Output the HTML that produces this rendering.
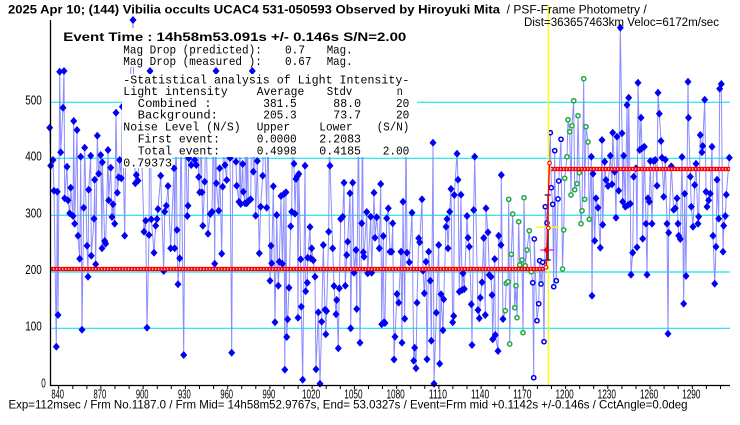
<!DOCTYPE html>
<html><head><meta charset="utf-8"><style>
html,body{margin:0;padding:0;background:#fff;}
svg{display:block;}
text{font-family:"Liberation Sans",sans-serif;fill:#000;}
.m text{font-family:"Liberation Mono",monospace;font-size:12px;}
.t{font-size:12.5px;}
.t text{font-size:12.5px;}
</style></head><body>
<svg width="740" height="425" viewBox="0 0 740 425" xmlns="http://www.w3.org/2000/svg">
<defs>
<marker id="d" viewBox="0 0 7 8" markerWidth="7" markerHeight="8" refX="3.5" refY="4" markerUnits="userSpaceOnUse"><path d="M3.5 0L7 4 3.5 8 0 4Z" fill="#0000f4"/></marker>
<marker id="g" viewBox="0 0 8 8" markerWidth="8" markerHeight="8" refX="4" refY="4" markerUnits="userSpaceOnUse"><circle cx="4" cy="4" r="2.1" fill="#fff" stroke="#22aa44" stroke-width="1.5"/></marker>
<marker id="o" viewBox="0 0 8 8" markerWidth="8" markerHeight="8" refX="4" refY="4" markerUnits="userSpaceOnUse"><circle cx="4" cy="4" r="2.1" fill="#fff" stroke="#0000f4" stroke-width="1.5"/></marker>
</defs>
<rect width="740" height="425" fill="#fff"/>
<!-- grid -->
<g stroke="#10e4f0" stroke-width="1.2">
<line x1="50" y1="102.3" x2="730" y2="102.3"/>
<line x1="50" y1="158.3" x2="730" y2="158.3"/>
<line x1="50" y1="215.3" x2="730" y2="215.3"/>
<line x1="50" y1="272" x2="730" y2="272"/>
<line x1="50" y1="328.3" x2="730" y2="328.3"/>
</g>
<!-- data line -->
<polyline fill="none" stroke="#8c8cff" stroke-width="1" points="49.7,127.7 50.7,165.7 53,160 54,190.7 56.3,346.7 57.3,191.7 58,315 59.7,71.7 60.7,152.3 63,107.7 64,71 64.7,198.3 67,166.7 68,200.3 69.7,213.3 70.7,187.7 73,216 73.7,121 74.7,223.7 77,130 78,235.7 79.7,258.7 80.7,156.7 82,329.7 83.7,207.7 84.7,147.7 87,245.7 88,276.7 88.7,189.7 90.7,155.7 91.3,255.7 94,218.7 94.7,179.7 95.7,264.3 97.3,135.7 98.7,173.7 100.7,155 102,248.3 102.3,162.3 104.7,241 105.7,243.7 108,150 108.7,200.3 110.7,167.7 112,217 113,204.3 114.7,223.7 116,112.7 117.3,192.7 118.7,177.3 119.7,160 121.3,178.3 122.3,106.7 124.7,235.7 126,120 129,110 133,20 134,120 135.3,183.3 136.3,175 138,180.7 141,130 144,231.7 145.7,220.7 147,327.7 149,235 150,71 151.3,219.3 154,252.7 155.7,225.7 157,219 158,209 160.7,175.7 163.7,271 164.7,211.7 166.3,205.7 168,186 170.7,248.3 174,168.3 174.7,248.3 176,120 177,230 178,284.3 179.7,258.3 181,125 183.7,355 185.5,115 187.3,216 188,205.7 188.7,158.3 191.3,165 192.5,110 194.7,160 196.3,165 197.5,120 198.7,177 199.7,192.3 201,125 202,192.3 202.8,225.7 204.7,181.7 206,118 208,233.7 210.3,214 212,211.7 213.5,120 214.7,263.7 216,71 216.3,183.3 218.7,210.7 219.7,168.3 221.7,253.7 222.7,186.7 224,120 225,165 226.7,180 228,110 230,158 231.7,352.7 233,115 235,125 236,161.7 236.7,185.7 239,201.7 240,120 240.7,204 242.7,164 243.3,191.7 245,203.3 245.5,105 246.7,203.3 247.5,130 248.3,201 250.7,199.3 252.3,71 253.3,171.7 254,125 255.7,215.7 257.3,161 259.3,253.3 260.7,206.7 262.7,175.7 264,120 266.7,207.7 268,128 270,280.7 271,245.7 271.7,263.3 273.3,186.3 275,322.3 276.7,215 278.3,285.7 279.3,261.7 281,196 282.3,263.7 284,194 284.8,369.7 286,192.3 286.7,337 287.7,319.3 289,287.7 290.7,226.3 291.7,211.7 292.5,120 294,163.7 295,213.7 296,179 297.3,176.3 298,317.7 298.8,174 300.7,259.3 301.3,306.7 302.7,379.7 305,165.7 305.7,291.3 307.3,282.7 307.7,257.7 310,227 310.7,258.3 311.7,248.3 313.3,260.3 315,276.7 316,369.3 318.3,312.3 320,383.7 321.7,321.7 323.3,245 325,309.7 325.8,334.3 326.6,311 328.7,231.7 329.5,115 330,165.7 332.7,248.3 334,286 336,314.3 336.7,300 338.3,348.3 339.3,288.3 340.7,219 342.7,216.7 344,182.7 345.3,285.7 346.7,255 347.7,241.7 350,193.3 350.7,328.3 352.7,182.7 354,272.7 356,250 356.7,309 358.5,120 360,342.7 361.7,223.3 362.5,110 363.3,252.3 364,256.7 366.7,212 367.7,273.3 370.7,216.7 371.7,272.7 374,192.7 375,237.7 376.7,217.3 379.3,248.3 380.7,184 381.7,324.3 383.3,236 384,322.3 385,323 386.7,218.3 388.3,208.3 390,251.7 391.7,251.7 392.7,223.3 394,359.5 395,336.7 397,294 398.7,302.7 401,251.7 402,342.7 403,201.7 404.7,318.7 406,128 407,252.7 409.3,262.3 412,212.7 413.7,360.7 414.7,347.7 416,368.3 417,302.7 418.7,238.3 419.7,242.3 422,199.3 423,270.7 424.3,293.3 426,261.7 427,359.3 428.7,251.7 430.3,280.7 431.3,340.7 433,142.7 434,383.7 436.3,312.7 438.7,245 439.7,363.7 441,294.3 443,330.3 443.7,299.3 446,226.7 447,219 448,248.3 449.7,211.7 451,189 452.7,322.3 453.7,316 454.3,195 457,153.7 458,179.7 459.3,291.7 461,194.7 462,290 463,273.3 464.3,289 467,216 468,237.7 469.3,246.7 471.3,304.3 472,345 473.7,210 474.7,156.7 478,310 479.3,318.3 480.3,297.7 482,282.3 483.7,238 485.3,315 486,208.3 488,232.3 489.3,275 491,276.7 492,295 492.7,339.3 494.7,259 495.3,335 498,351 498.7,235.7 501,245 501.3,175 503,319 505.3,310.7 506.3,283.3 508,281.7 508.7,199.3 509.7,344 511.3,254.3 512.7,214 514.7,307.7 516,285.7 517,317.7 518.7,221.7 519.7,265 522,260 523,332.7 524,197.7 525.3,265.7 527,250 529.3,230.7 531.3,271.7 532.7,282.7 533.7,377.7 534.3,239 537,320.7 538.7,303.7 539.7,260.7 541,284 542.7,262.3 544,341.7 545.3,206.7 547,223 550.3,132.7 551.3,187.7 552.7,204.3 553.7,286.7 554.7,150.7 556.3,280.7 558,199 558.7,181 561,139.3 562.5,269 563.7,230 564.7,178.3 567,156.7 568,119.7 569.7,131.7 571,195 572,125.7 573.7,100.7 574.7,189.7 577,183.7 578,115.7 579.3,172.7 581,223.7 582,210.7 583.7,78.7 584.7,199.3 586,126.7 588,142 589.3,219.3 591.3,156.7 592,295.7 593,173.7 594.7,240.7 596,198.3 598,207.7 600.3,247.7 602,140 602.7,224.7 604.7,161.7 606,180 608,186 610.3,155.7 612,184.3 612.7,132.7 614.7,171.7 616,217.7 617,136.7 618.7,190.7 620.3,27.7 622,133.3 622.7,201.7 623.7,155.7 625.3,206.7 627,105 628,205 628.7,97.7 630.3,203.7 631,274.7 632.7,252.7 633.7,176.7 636,168.3 637,247.3 638,82.7 639.7,150 641,117.7 642,148.3 642.7,238.7 644.3,146.7 646,223.7 647,274.7 648,198.3 649.3,201.7 650.3,161 652,223.7 653.7,161 655.3,160 657,185.7 658,92.7 659.3,113.7 661,141 662,157.7 663.7,196.7 665.3,159.7 667,223.7 668,333.7 668.7,232.7 671.3,166.3 673.7,209.7 675.3,208.3 677,198.3 678,223.7 678.7,235.7 680.3,239 682,157 683.7,303.7 684.7,193.7 686,276 688,81.7 688.5,117.7 690.3,176.7 691.3,206.7 693,226.7 694.7,185 696,163.7 698,223.7 698.7,216.7 700.3,135 702,152.3 702.7,146 704.7,99.7 706,191.7 707,206.7 708.7,200.3 710.3,193.7 712,146.7 713,235.7 714.7,283.7 716,246.7 717,179.7 718.7,218.7 719.7,88.7 721.3,84 723,251.7 723.7,225.7 725.3,216 726.3,194.7 729.3,157.7"/>
<!-- green circles -->
<polyline fill="none" stroke="none" marker-start="url(#g)" marker-mid="url(#g)" marker-end="url(#g)" points="505.3,310.7 506.3,283.3 508,281.7 508.7,199.3 509.7,344 511.3,254.3 512.7,214 514.7,307.7 516,285.7 517,317.7 518.7,221.7 519.7,265 522,260 523,332.7 524,197.7 525.3,265.7 527,250 529.3,230.7 531.3,271.7 562.5,269 563.7,230 564.7,178.3 567,156.7 568,119.7 569.7,131.7 571,195 572,125.7 573.7,100.7 574.7,189.7 577,183.7 578,115.7 579.3,172.7 581,223.7 582,210.7 583.7,78.7 584.7,199.3 586,126.7 588,142 589.3,219.3"/>
<!-- blue open circles -->
<polyline fill="none" stroke="none" marker-start="url(#o)" marker-mid="url(#o)" marker-end="url(#o)" points="532.7,282.7 533.7,377.7 534.3,239 537,320.7 538.7,303.7 539.7,260.7 541,284 542.7,262.3 544,341.7 545.3,206.7 547,223 550.3,132.7 551.3,187.7 552.7,204.3 553.7,286.7 554.7,150.7 556.3,280.7 558,199 558.7,181 561,139.3"/>
<!-- diamonds -->
<polyline fill="none" stroke="none" marker-start="url(#d)" marker-mid="url(#d)" marker-end="url(#d)" points="49.7,127.7 50.7,165.7 53,160 54,190.7 56.3,346.7 57.3,191.7 58,315 59.7,71.7 60.7,152.3 63,107.7 64,71 64.7,198.3 67,166.7 68,200.3 69.7,213.3 70.7,187.7 73,216 73.7,121 74.7,223.7 77,130 78,235.7 79.7,258.7 80.7,156.7 82,329.7 83.7,207.7 84.7,147.7 87,245.7 88,276.7 88.7,189.7 90.7,155.7 91.3,255.7 94,218.7 94.7,179.7 95.7,264.3 97.3,135.7 98.7,173.7 100.7,155 102,248.3 102.3,162.3 104.7,241 105.7,243.7 108,150 108.7,200.3 110.7,167.7 112,217 113,204.3 114.7,223.7 116,112.7 117.3,192.7 118.7,177.3 119.7,160 121.3,178.3 122.3,106.7 124.7,235.7 126,120 129,110 133,20 134,120 135.3,183.3 136.3,175 138,180.7 141,130 144,231.7 145.7,220.7 147,327.7 149,235 150,71 151.3,219.3 154,252.7 155.7,225.7 157,219 158,209 160.7,175.7 163.7,271 164.7,211.7 166.3,205.7 168,186 170.7,248.3 174,168.3 174.7,248.3 176,120 177,230 178,284.3 179.7,258.3 181,125 183.7,355 185.5,115 187.3,216 188,205.7 188.7,158.3 191.3,165 192.5,110 194.7,160 196.3,165 197.5,120 198.7,177 199.7,192.3 201,125 202,192.3 202.8,225.7 204.7,181.7 206,118 208,233.7 210.3,214 212,211.7 213.5,120 214.7,263.7 216,71 216.3,183.3 218.7,210.7 219.7,168.3 221.7,253.7 222.7,186.7 224,120 225,165 226.7,180 228,110 230,158 231.7,352.7 233,115 235,125 236,161.7 236.7,185.7 239,201.7 240,120 240.7,204 242.7,164 243.3,191.7 245,203.3 245.5,105 246.7,203.3 247.5,130 248.3,201 250.7,199.3 252.3,71 253.3,171.7 254,125 255.7,215.7 257.3,161 259.3,253.3 260.7,206.7 262.7,175.7 264,120 266.7,207.7 268,128 270,280.7 271,245.7 271.7,263.3 273.3,186.3 275,322.3 276.7,215 278.3,285.7 279.3,261.7 281,196 282.3,263.7 284,194 284.8,369.7 286,192.3 286.7,337 287.7,319.3 289,287.7 290.7,226.3 291.7,211.7 292.5,120 294,163.7 295,213.7 296,179 297.3,176.3 298,317.7 298.8,174 300.7,259.3 301.3,306.7 302.7,379.7 305,165.7 305.7,291.3 307.3,282.7 307.7,257.7 310,227 310.7,258.3 311.7,248.3 313.3,260.3 315,276.7 316,369.3 318.3,312.3 320,383.7 321.7,321.7 323.3,245 325,309.7 325.8,334.3 326.6,311 328.7,231.7 329.5,115 330,165.7 332.7,248.3 334,286 336,314.3 336.7,300 338.3,348.3 339.3,288.3 340.7,219 342.7,216.7 344,182.7 345.3,285.7 346.7,255 347.7,241.7 350,193.3 350.7,328.3 352.7,182.7 354,272.7 356,250 356.7,309 358.5,120 360,342.7 361.7,223.3 362.5,110 363.3,252.3 364,256.7 366.7,212 367.7,273.3 370.7,216.7 371.7,272.7 374,192.7 375,237.7 376.7,217.3 379.3,248.3 380.7,184 381.7,324.3 383.3,236 384,322.3 385,323 386.7,218.3 388.3,208.3 390,251.7 391.7,251.7 392.7,223.3 394,359.5 395,336.7 397,294 398.7,302.7 401,251.7 402,342.7 403,201.7 404.7,318.7 406,128 407,252.7 409.3,262.3 412,212.7 413.7,360.7 414.7,347.7 416,368.3 417,302.7 418.7,238.3 419.7,242.3 422,199.3 423,270.7 424.3,293.3 426,261.7 427,359.3 428.7,251.7 430.3,280.7 431.3,340.7 433,142.7 434,383.7 436.3,312.7 438.7,245 439.7,363.7 441,294.3 443,330.3 443.7,299.3 446,226.7 447,219 448,248.3 449.7,211.7 451,189 452.7,322.3 453.7,316 454.3,195 457,153.7 458,179.7 459.3,291.7 461,194.7 462,290 463,273.3 464.3,289 467,216 468,237.7 469.3,246.7 471.3,304.3 472,345 473.7,210 474.7,156.7 478,310 479.3,318.3 480.3,297.7 482,282.3 483.7,238 485.3,315 486,208.3 488,232.3 489.3,275 491,276.7 492,295 492.7,339.3 494.7,259 495.3,335 498,351 498.7,235.7 501,245 501.3,175 503,319 591.3,156.7 592,295.7 593,173.7 594.7,240.7 596,198.3 598,207.7 600.3,247.7 602,140 602.7,224.7 604.7,161.7 606,180 608,186 610.3,155.7 612,184.3 612.7,132.7 614.7,171.7 616,217.7 617,136.7 618.7,190.7 620.3,27.7 622,133.3 622.7,201.7 623.7,155.7 625.3,206.7 627,105 628,205 628.7,97.7 630.3,203.7 631,274.7 632.7,252.7 633.7,176.7 636,168.3 637,247.3 638,82.7 639.7,150 641,117.7 642,148.3 642.7,238.7 644.3,146.7 646,223.7 647,274.7 648,198.3 649.3,201.7 650.3,161 652,223.7 653.7,161 655.3,160 657,185.7 658,92.7 659.3,113.7 661,141 662,157.7 663.7,196.7 665.3,159.7 667,223.7 668,333.7 668.7,232.7 671.3,166.3 673.7,209.7 675.3,208.3 677,198.3 678,223.7 678.7,235.7 680.3,239 682,157 683.7,303.7 684.7,193.7 686,276 688,81.7 688.5,117.7 690.3,176.7 691.3,206.7 693,226.7 694.7,185 696,163.7 698,223.7 698.7,216.7 700.3,135 702,152.3 702.7,146 704.7,99.7 706,191.7 707,206.7 708.7,200.3 710.3,193.7 712,146.7 713,235.7 714.7,283.7 716,246.7 717,179.7 718.7,218.7 719.7,88.7 721.3,84 723,251.7 723.7,225.7 725.3,216 726.3,194.7 729.3,157.7"/>
<!-- red level lines -->
<line x1="50" y1="269" x2="545" y2="269" stroke="#ff0000" stroke-width="4.2"/>
<line x1="50" y1="269" x2="545" y2="269" stroke="#fff" stroke-width="1.3" stroke-dasharray="1.3 1.7"/>
<line x1="551" y1="169" x2="730" y2="169" stroke="#ff0000" stroke-width="4.2"/>
<line x1="551" y1="169" x2="730" y2="169" stroke="#fff" stroke-width="1.3" stroke-dasharray="1.3 1.7"/>
<!-- event markers -->
<line x1="548.3" y1="5" x2="548.3" y2="385" stroke="#ffff00" stroke-width="1.4"/>
<line x1="535.5" y1="227.3" x2="559" y2="227.3" stroke="#ffff00" stroke-width="1.4"/>
<line x1="540.3" y1="250" x2="553.7" y2="250" stroke="#ff00ff" stroke-width="1.3"/>
<path d="M548 195V260M544.7 195H550.7M544.7 260H550.7" stroke="#000060" stroke-width="1.3" fill="none"/>
<line x1="549.4" y1="163" x2="546.3" y2="267" stroke="#ff0000" stroke-width="1.4"/>
<path d="M546 247L548.6 250 546 253 543.4 250Z" fill="#ff0000"/>
<g fill="#fff" stroke="#ff0000" stroke-width="1.1">
<circle cx="549.5" cy="163" r="1.8"/>
<circle cx="548.3" cy="228" r="1.8"/>
<circle cx="546" cy="267.3" r="1.8"/>
</g>
<!-- axes -->
<path d="M50.5 20V385.5H730" stroke="#000" stroke-width="1.3" fill="none"/>
<path stroke="#000" stroke-width="1" d="M58.7 385v4M72.8 385v4M86.9 385v4M100.9 385v4M115 385v4M129.1 385v4M143.2 385v4M157.3 385v4M171.3 385v4M185.4 385v4M199.5 385v4M213.6 385v4M227.7 385v4M241.7 385v4M255.8 385v4M269.9 385v4M284 385v4M298.1 385v4M312.1 385v4M326.2 385v4M340.3 385v4M354.4 385v4M368.5 385v4M382.5 385v4M396.6 385v4M410.7 385v4M424.8 385v4M438.9 385v4M452.9 385v4M467 385v4M481.1 385v4M495.2 385v4M509.3 385v4M523.3 385v4M537.4 385v4M551.5 385v4M565.6 385v4M579.7 385v4M593.7 385v4M607.8 385v4M621.9 385v4M636 385v4M650.1 385v4M664.1 385v4M678.2 385v4M692.3 385v4M706.4 385v4M720.5 385v4"/>
<!-- tick labels -->
<g class="t" text-anchor="middle">
<text x="57.7" y="398.5" textLength="12.7" lengthAdjust="spacingAndGlyphs">840</text>
<text x="99.9" y="398.5" textLength="12.7" lengthAdjust="spacingAndGlyphs">870</text>
<text x="142.2" y="398.5" textLength="12.7" lengthAdjust="spacingAndGlyphs">900</text>
<text x="184.4" y="398.5" textLength="12.7" lengthAdjust="spacingAndGlyphs">930</text>
<text x="226.7" y="398.5" textLength="12.7" lengthAdjust="spacingAndGlyphs">960</text>
<text x="268.9" y="398.5" textLength="12.7" lengthAdjust="spacingAndGlyphs">990</text>
<text x="311.1" y="398.5" textLength="18.3" lengthAdjust="spacingAndGlyphs">1020</text>
<text x="353.4" y="398.5" textLength="18.3" lengthAdjust="spacingAndGlyphs">1050</text>
<text x="395.6" y="398.5" textLength="18.3" lengthAdjust="spacingAndGlyphs">1080</text>
<text x="437.9" y="398.5" textLength="18.3" lengthAdjust="spacingAndGlyphs">1110</text>
<text x="480.1" y="398.5" textLength="18.3" lengthAdjust="spacingAndGlyphs">1140</text>
<text x="522.3" y="398.5" textLength="18.3" lengthAdjust="spacingAndGlyphs">1170</text>
<text x="564.6" y="398.5" textLength="18.3" lengthAdjust="spacingAndGlyphs">1200</text>
<text x="606.8" y="398.5" textLength="18.3" lengthAdjust="spacingAndGlyphs">1230</text>
<text x="649.1" y="398.5" textLength="18.3" lengthAdjust="spacingAndGlyphs">1260</text>
<text x="691.3" y="398.5" textLength="18.3" lengthAdjust="spacingAndGlyphs">1290</text>
</g>
<g class="t" text-anchor="end">
<text x="41.7" y="104.5" textLength="16.5" lengthAdjust="spacingAndGlyphs">500</text>
<text x="41.7" y="160.5" textLength="16.5" lengthAdjust="spacingAndGlyphs">400</text>
<text x="41.7" y="217.5" textLength="16.5" lengthAdjust="spacingAndGlyphs">300</text>
<text x="41.7" y="274" textLength="16.5" lengthAdjust="spacingAndGlyphs">200</text>
<text x="41.7" y="330.5" textLength="16.5" lengthAdjust="spacingAndGlyphs">100</text>
<text x="45.7" y="387.5" textLength="4.5" lengthAdjust="spacingAndGlyphs">0</text>
</g>
<!-- bottom info -->
<text x="8.5" y="408.5" font-size="12" textLength="679" lengthAdjust="spacingAndGlyphs">Exp=112msec / Frm No.1187.0 / Frm Mid= 14h58m52.9767s,  End= 53.0327s / Event=Frm mid +0.1142s +/-0.146s / CctAngle=0.0deg</text>
<!-- title -->
<text x="8" y="13.5" font-size="11.5" font-weight="bold" textLength="492" lengthAdjust="spacingAndGlyphs">2025 Apr 10; (144) Vibilia occults UCAC4 531-050593 Observed by Hiroyuki Mita</text>
<text x="506.7" y="13.5" font-size="11.5" textLength="140" lengthAdjust="spacingAndGlyphs">/ PSF-Frame Photometry /</text>
<text x="524" y="26" font-size="11.5" textLength="195" lengthAdjust="spacingAndGlyphs">Dist=363657463km Veloc=6172m/sec</text>
<!-- text background boxes -->
<g fill="#fff">
<rect x="62" y="28" width="348" height="16"/>
<rect x="122" y="44" width="288" height="23"/>
<rect x="122" y="74" width="295" height="83"/>
<rect x="122" y="157" width="50" height="11"/>
</g>
<text x="63.3" y="41" font-size="12" font-weight="bold" textLength="343" lengthAdjust="spacingAndGlyphs">Event Time : 14h58m53.091s  +/- 0.146s  S/N=2.00</text>
<g class="m">
<text x="123.3" y="53.5" textLength="138.5" lengthAdjust="spacingAndGlyphs">Mag Drop (predicted):</text>
<text x="285" y="53.5" textLength="20" lengthAdjust="spacingAndGlyphs">0.7</text>
<text x="326.7" y="53.5" textLength="26" lengthAdjust="spacingAndGlyphs">Mag.</text>
<text x="123.3" y="65" textLength="138.5" lengthAdjust="spacingAndGlyphs">Mag Drop (measured ):</text>
<text x="285" y="65" textLength="26.5" lengthAdjust="spacingAndGlyphs">0.67</text>
<text x="326.7" y="65" textLength="26" lengthAdjust="spacingAndGlyphs">Mag.</text>
<text x="123.3" y="83.5" textLength="286" lengthAdjust="spacingAndGlyphs">-Statistical analysis of Light Intensity-</text>
<text x="123.3" y="95" textLength="104.4" lengthAdjust="spacingAndGlyphs">Light intensity</text>
<text x="256.7" y="95" textLength="47.6" lengthAdjust="spacingAndGlyphs">Average</text>
<text x="326.7" y="95" textLength="25.6" lengthAdjust="spacingAndGlyphs">Stdv</text>
<text x="396.7" y="95" textLength="6" lengthAdjust="spacingAndGlyphs">n</text>
<text x="137.7" y="107" textLength="74" lengthAdjust="spacingAndGlyphs">Combined  :</text>
<text x="263.3" y="107" textLength="33.4" lengthAdjust="spacingAndGlyphs">381.5</text>
<text x="333.3" y="107" textLength="27.7" lengthAdjust="spacingAndGlyphs">88.0</text>
<text x="396" y="107" textLength="13.3" lengthAdjust="spacingAndGlyphs">20</text>
<text x="137.7" y="118.5" textLength="80.3" lengthAdjust="spacingAndGlyphs">Background:</text>
<text x="263.3" y="118.5" textLength="33.4" lengthAdjust="spacingAndGlyphs">205.3</text>
<text x="333.3" y="118.5" textLength="27.7" lengthAdjust="spacingAndGlyphs">73.7</text>
<text x="396" y="118.5" textLength="13.3" lengthAdjust="spacingAndGlyphs">20</text>
<text x="123.3" y="130.5" textLength="117.4" lengthAdjust="spacingAndGlyphs">Noise Level (N/S)</text>
<text x="256.7" y="130.5" textLength="33.3" lengthAdjust="spacingAndGlyphs">Upper</text>
<text x="319.3" y="130.5" textLength="33.4" lengthAdjust="spacingAndGlyphs">Lower</text>
<text x="376.7" y="130.5" textLength="32.6" lengthAdjust="spacingAndGlyphs">(S/N)</text>
<text x="137.7" y="142.5" textLength="82.3" lengthAdjust="spacingAndGlyphs">First event:</text>
<text x="256.7" y="142.5" textLength="40" lengthAdjust="spacingAndGlyphs">0.0000</text>
<text x="319.3" y="142.5" textLength="41.7" lengthAdjust="spacingAndGlyphs">2.2083</text>
<text x="137.7" y="154.5" textLength="82.3" lengthAdjust="spacingAndGlyphs">Total event:</text>
<text x="256.7" y="154.5" textLength="40" lengthAdjust="spacingAndGlyphs">0.4998</text>
<text x="319.3" y="154.5" textLength="41.7" lengthAdjust="spacingAndGlyphs">0.4185</text>
<text x="382.7" y="154.5" textLength="26.6" lengthAdjust="spacingAndGlyphs">2.00</text>
<text x="123.3" y="166.5" textLength="48.7" lengthAdjust="spacingAndGlyphs">0.79373</text>
</g>
</svg>
</body></html>
